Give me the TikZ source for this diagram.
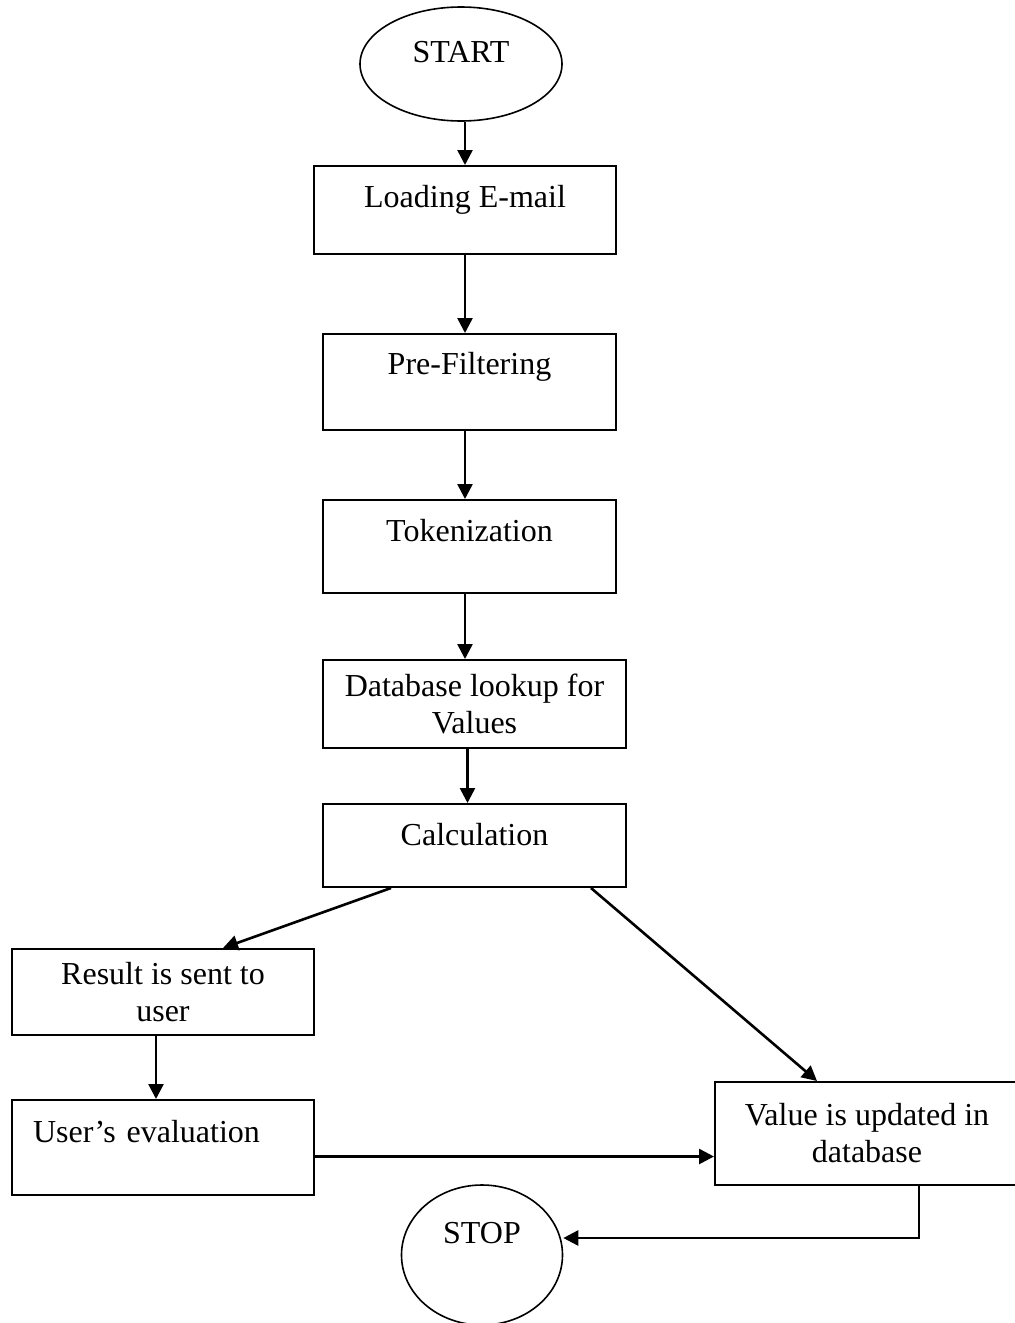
\documentclass[tikz,border=0pt]{standalone}
\usepackage{fontspec}
\setmainfont{Liberation Serif}
\usetikzlibrary{shapes.geometric,arrows.meta}

\tikzset{
  every node/.style={font=\fontsize{16pt}{18.5pt}\selectfont},
  procbox/.style={draw, rectangle, line width=1pt, align=center},
  termnode/.style={draw, ellipse, line width=0.8pt},
  upper/.style={text height=11pt, text depth=#1},
  flow/.style={-{Triangle[length=7.5pt,width=7.5pt]}, line width=1.3pt},
}

\begin{document}
\begin{tikzpicture}[x=0.5pt, y=-0.5pt]
  % page
  \fill[white] (0,0) rectangle (1015,1323);
  \useasboundingbox (0,0) rectangle (1015,1323);

  % terminals
  \node[termnode, minimum width=101pt, minimum height=57pt, upper=13pt] (start) at (461,64) {START};
  \node[termnode, minimum width=80.5pt, minimum height=70pt, upper=23pt] (stop) at (482,1255) {STOP};

  % process steps
  \node[procbox, minimum width=151pt, minimum height=44pt, upper=14pt] (load) at (465,210) {Loading E-mail};
  \node[procbox, minimum width=146.5pt, minimum height=48pt, upper=19pt] (pre) at (469.5,382) {Pre-Filtering};
  \node[procbox, minimum width=146.5pt, minimum height=46.5pt, upper=16.5pt] (tok) at (469.5,546.5) {Tokenization};
  \node[procbox, minimum width=151.5pt, minimum height=44pt] (db) at (474.5,704) {Database lookup for\\Values};
  \node[procbox, minimum width=151.5pt, minimum height=41.5pt, upper=11.5pt] (calc) at (474.5,845.5) {Calculation};
  \node[procbox, minimum width=151pt, minimum height=43pt] (res) at (163,992) {Result is sent to\\user};
  \node[procbox, align=left, text width=130pt, inner xsep=10.5pt, minimum height=47.5pt, upper=16.5pt] (eval) at (163,1147.5) {User’s evaluation};
  \node[procbox, minimum width=152pt, minimum height=51.5pt] (val) at (867,1133.5) {Value is updated in\\database};

  % main sequence
  \draw[flow] (start.south -| load.north) -- (load.north);
  \draw[flow] (load.south) -- (load.south |- pre.north);
  \draw[flow] (pre.south -| load.south) -- (tok.north -| load.south);
  \draw[flow] (tok.south -| load.south) -- (db.north -| load.south);
  \draw[flow] ([xshift=-3.5pt]db.south) -- ([xshift=-3.5pt]calc.north);

  % branches after the calculation
  \draw[flow] ([xshift=34.5pt]calc.south west) -- ([xshift=30pt]res.north);
  \draw[flow] ([xshift=-18pt]calc.south east) -- ([xshift=51.5pt]val.north west);
  \draw[flow] ([xshift=-3.5pt]res.south) -- ([xshift=-3.5pt]eval.north);
  \draw[flow] ([yshift=-4.5pt]eval.east) -- ([yshift=-4.5pt]eval.east -| val.west);
  \draw[flow] ([xshift=26pt]val.south) |- ([yshift=8.5pt]stop.east);
\end{tikzpicture}
\end{document}
